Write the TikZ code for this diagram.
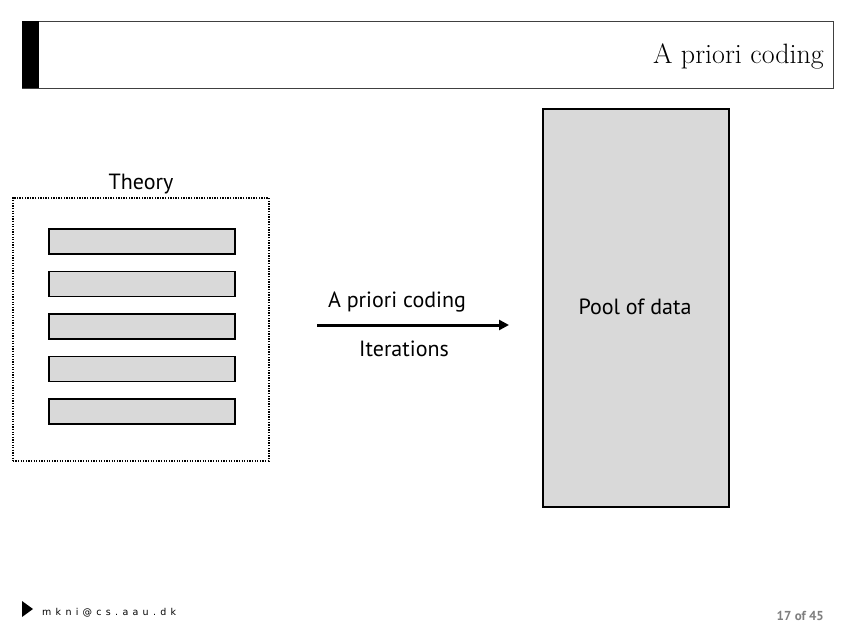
\documentclass[tikz,border=0pt]{standalone}
\usepackage{fontspec}
\newfontfamily\gill{PT Sans}
\newfontfamily\mailfont[LetterSpace=45]{DejaVu Sans}
\newfontfamily\pagefont{PT Sans}
\usetikzlibrary{arrows.meta}
\definecolor{boxgray}{HTML}{D9D9D9}
\definecolor{pagegray}{HTML}{7F7F7F}
\tikzset{
  bar/.style={draw=black, line width=1.8pt, fill=boxgray},
  lbl/.style={font=\gill\fontsize{22}{26}\selectfont, inner sep=0pt},
}
\begin{document}
\begin{tikzpicture}[x=1pt,y=-1pt]
\useasboundingbox (0,0) rectangle (847,637);
% title frame
\node[draw=black!75, line width=1pt, minimum width=811pt, minimum height=67pt, inner sep=0pt, anchor=north west] (frame) at (22,21) {};
\fill[black] (22,21) rectangle (39,88);
\node[font=\fontsize{28}{32}\selectfont, anchor=base east, inner sep=0pt] (title) at (824,63) {A priori coding};
% theory box
\node[draw=black, dash pattern=on 1.3pt off 1.3pt, line width=1.5pt, minimum width=256pt, minimum height=263pt, inner sep=0pt, anchor=north west] (theory) at (12,197) {};
\node[lbl, anchor=base] (thlabel) at (141,189) {Theory};
\foreach \y [count=\i] in {228,270.5,313,355.5,398}{
  \node[bar, minimum width=186pt, minimum height=25pt, inner sep=0pt, anchor=north west] (b\i) at (48,\y) {};
}
% arrow
\coordinate (as) at (317,325);
\coordinate (ae) at (509,325);
\draw[line width=3pt, -{Triangle[length=10pt,width=10pt]}] (as) -- (ae);
\node[lbl, anchor=base] (apc) at (397,307) {A priori coding};
\node[lbl, anchor=base] (iter) at (404,356) {Iterations};
% pool
\node[bar, line width=1.6pt, minimum width=186pt, minimum height=398pt, inner sep=0pt, anchor=north west] (pool) at (542,108) {};
\node[lbl, anchor=base] (pooltxt) at (635,314) {Pool of data};
% footer
\fill[black] (22,601) -- (33,609) -- (22,617) -- cycle;
\node[font=\mailfont\fontsize{9.5}{11}\selectfont, anchor=base west, inner sep=0pt] (mail) at (42,615) {mkni@cs.aau.dk};
\node[font=\pagefont\bfseries\fontsize{13}{15}\selectfont, text=pagegray, anchor=base east, inner sep=0pt] (page) at (824,620) {17 of 45};
\end{tikzpicture}
\end{document}
